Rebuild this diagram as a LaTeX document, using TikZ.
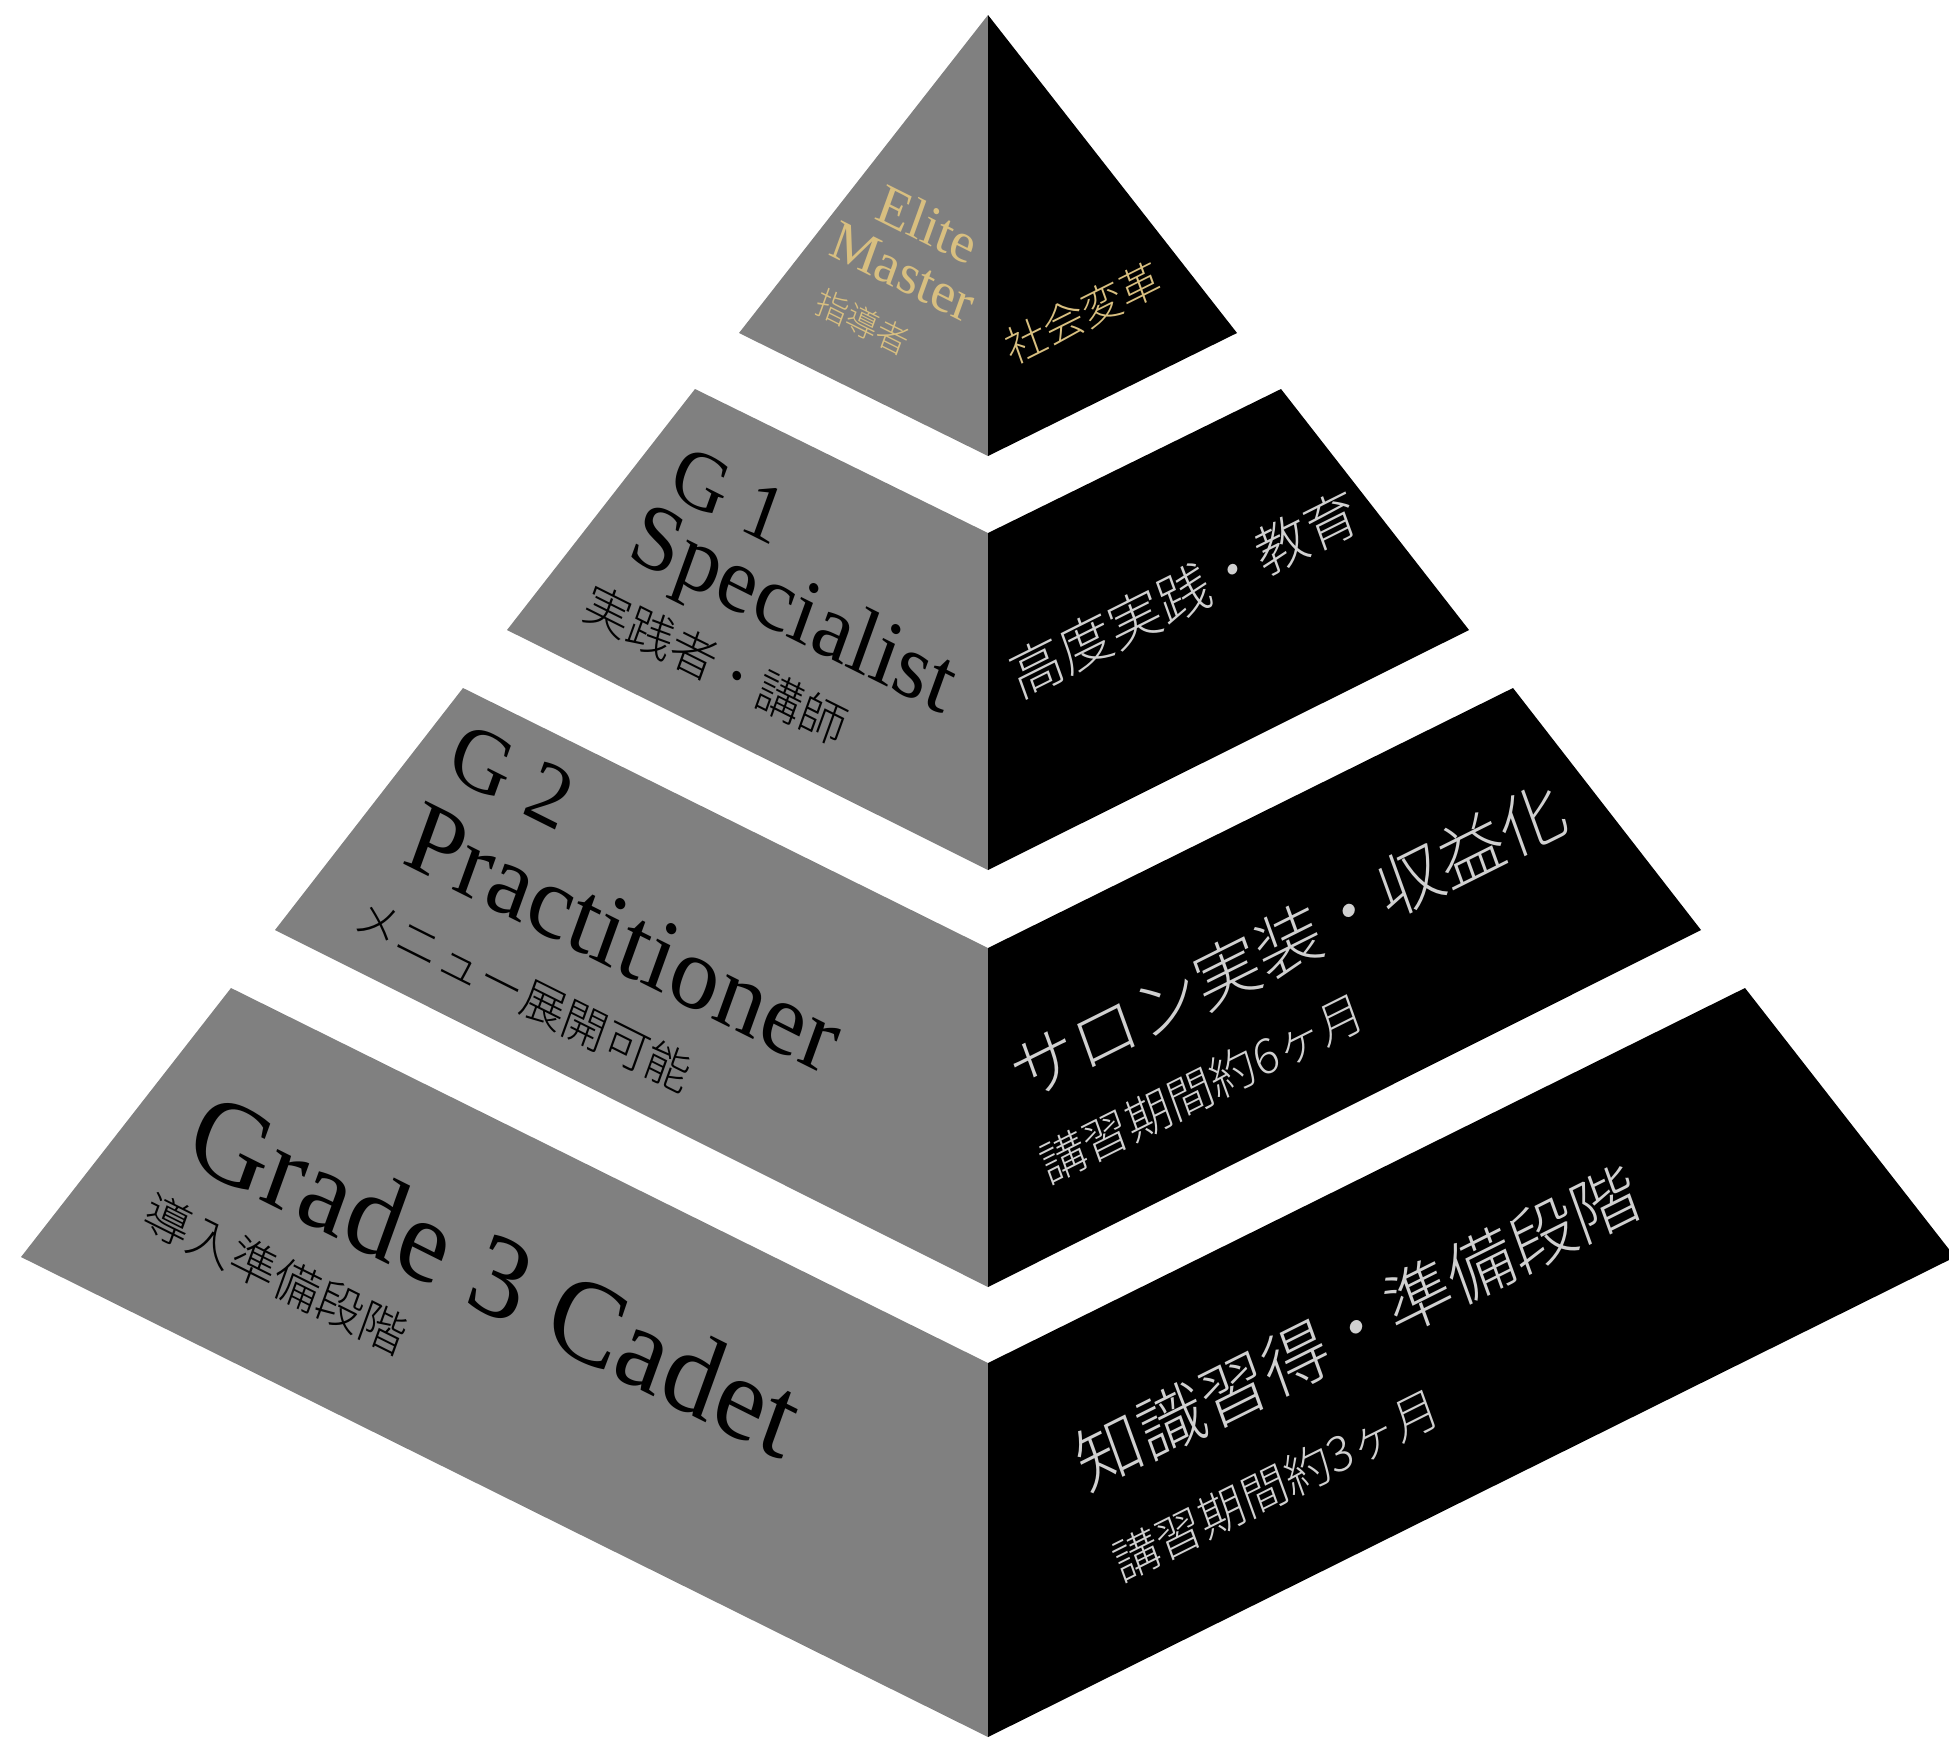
\documentclass[tikz,border=0pt]{standalone}
\usepackage{fontspec}
\setmainfont{Liberation Serif}
\newfontfamily\jp{Noto Sans CJK JP}[UprightFont={* Light}]

\definecolor{facegray}{HTML}{808080}
\definecolor{gold}{HTML}{D8BF80}
\definecolor{softgray}{HTML}{D0D0D0}

\tikzset{
    lface/.style={inner sep=0pt, cm={0.894,-0.447,0.34,0.94,(0,0)}},
    rface/.style={inner sep=0pt, cm={0.894,0.447,-0.34,0.94,(0,0)}},
}

\begin{document}
\begin{tikzpicture}[x=0.01cm, y=-0.01cm]

        % (x, y): pixels of the picture, y goes down
        \useasboundingbox (0, 0) rectangle (1949, 1739);
        \clip (0, 0) rectangle (1949, 1739);

        % top
        \fill[facegray] (988, 15) -- (739, 333) -- (988, 456) -- cycle;
        \fill[black] (988, 15) -- (1237, 333) -- (988, 456) -- cycle;

        % G 1
        \fill[facegray] (695, 389) -- (988, 533) -- (988, 870) -- (507, 630) -- cycle;
        \fill[black] (1281, 389) -- (988, 533) -- (988, 870) -- (1469, 630) -- cycle;

        % G 2
        \fill[facegray] (463, 688) -- (988, 948) -- (988, 1287) -- (275, 930) -- cycle;
        \fill[black] (1513, 688) -- (988, 948) -- (988, 1287) -- (1701, 930) -- cycle;

        % Grade 3
        \fill[facegray] (231, 988) -- (988, 1363) -- (988, 1737) -- (21, 1257) -- cycle;
        \fill[black] (1745, 988) -- (988, 1363) -- (988, 1737) -- (1955, 1257) -- cycle;

        % top texts
        \node[lface, text=gold, font=\fontsize{16}{16}\selectfont] (elite) at (928, 224) {Elite};
        \node[lface, text=gold, font=\fontsize{16}{16}\selectfont] (master) at (903, 272) {Master};
        \node[lface, text=gold, font=\jp\fontsize{9.5}{9.5}\selectfont] (guide) at (863, 322) {指導者};
        \node[rface, text=gold, font=\jp\fontsize{12}{12}\selectfont] (change) at (1083, 313) {社会変革};

        % G 1 texts
        \node[lface, font=\fontsize{23}{23}\selectfont] (gone) at (729, 495) {G 1};
        \node[lface, font=\fontsize{26}{26}\selectfont] (specialist) at (792, 615) {Specialist};
        \node[lface, font=\jp\fontsize{13.7}{13.7}\selectfont] (lecturer) at (716, 665) {実践者・講師};
        \node[rface, text=softgray, font=\jp\fontsize{15.6}{15.6}\selectfont] (advanced) at (1184, 594) {高度実践・教育};

        % G 2 texts
        \node[lface, font=\fontsize{25}{25}\selectfont] (gtwo) at (512, 776) {G 2};
        \node[lface, font=\fontsize{29}{29}\selectfont] (practitioner) at (624, 938) {Practitioner};
        \node[lface, font=\jp\fontsize{13.2}{13.2}\selectfont] (menu) at (523, 994) {メニュー展開可能};
        \node[rface, text=softgray, font=\jp\fontsize{19.4}{19.4}\selectfont] (salon) at (1288, 941) {サロン実装・収益化};
        \node[rface, text=softgray, font=\jp\fontsize{13.5}{13.5}\selectfont] (termsix) at (1202, 1088) {講習期間約6ヶ月};

        % Grade 3 texts
        \node[lface, font=\fontsize{33}{33}\selectfont] (grade) at (496, 1274) {Grade 3 Cadet};
        \node[lface, font=\jp\fontsize{13.7}{13.7}\selectfont] (intro) at (276, 1274) {導入準備段階};
        \node[rface, text=softgray, font=\jp\fontsize{19.7}{19.7}\selectfont] (knowledge) at (1357, 1327) {知識習得・準備段階};
        \node[rface, text=softgray, font=\jp\fontsize{13.6}{13.6}\selectfont] (termthree) at (1276, 1485) {講習期間約3ヶ月};

    \end{tikzpicture}
\end{document}
